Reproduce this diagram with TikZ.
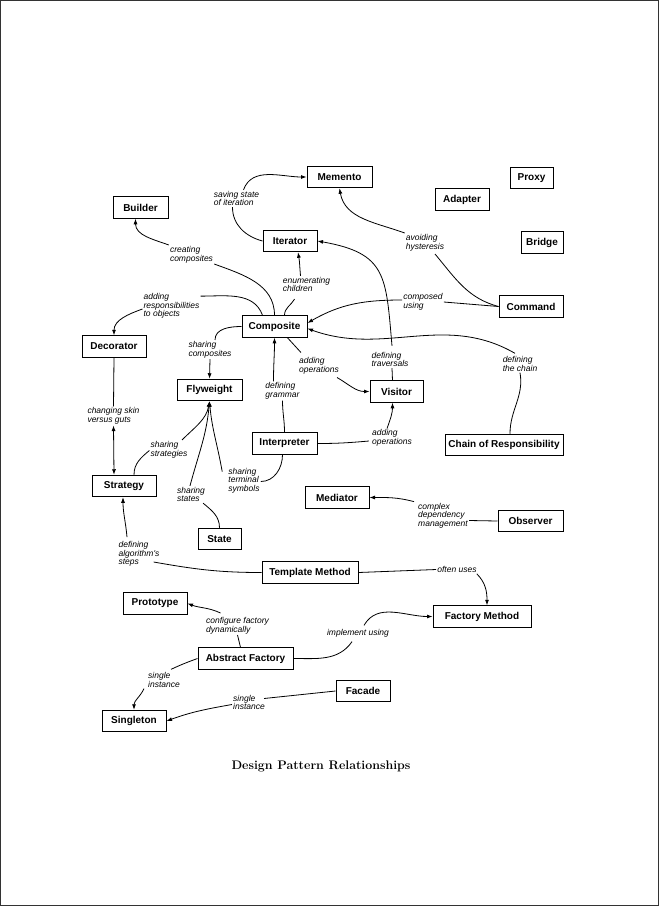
\documentclass[tikz,border=0pt]{standalone}
\usepackage{fontspec}
\newfontfamily\helv{Liberation Sans}
\usetikzlibrary{arrows.meta}
\usetikzlibrary{positioning}

\begin{document}
\begin{tikzpicture}[x=1pt,y=-1pt,
  pbox/.style={draw,line width=1pt,minimum height=21.5pt,inner sep=0pt,font=\helv\bfseries\fontsize{10}{12}\selectfont},
  rel/.style={font=\helv\itshape\fontsize{8.5}{8.7}\selectfont,align=left,inner sep=1pt},
  link/.style={line width=0.8pt,-{Latex[length=5.5pt,width=4pt]}},
  both/.style={line width=0.8pt,{Latex[length=5.5pt,width=4pt]}-{Latex[length=5.5pt,width=4pt]}}]
\useasboundingbox (0,0) rectangle (659,906);
\draw[line width=1.3pt,black!80] (0.65,0.65) rectangle (658.35,905.35);

% patterns
\node[pbox,minimum width=65pt] (mem) at (339.5,177) {Memento};
\node[pbox,minimum width=55pt] (build) at (140.5,207.5) {Builder};
\node[pbox,minimum width=54pt] (iter) at (290,241) {Iterator};
\node[pbox,minimum width=65pt] (comp) at (274.5,326.5) {Composite};
\node[pbox,minimum width=64pt] (dec) at (114,346.5) {Decorator};
\node[pbox,minimum width=65pt] (fly) at (209.5,390) {Flyweight};
\node[pbox,minimum width=65pt] (interp) at (284.5,443.5) {Interpreter};
\node[pbox,minimum width=43pt] (proxy) at (531.5,178) {Proxy};
\node[pbox,minimum width=54pt] (adapt) at (462,199.5) {Adapter};
\node[pbox,minimum width=42pt] (bridge) at (542,242.5) {Bridge};
\node[pbox,minimum width=64pt] (cmd) at (531,306.5) {Command};
\node[pbox,minimum width=53pt] (vis) at (396.5,391.5) {Visitor};
\node[pbox,minimum width=118pt] (chain) at (504,445) {Chain of Responsibility};
\node[pbox,minimum width=64pt] (strat) at (124,486) {Strategy};
\node[pbox,minimum width=43pt] (state) at (219.5,539) {State};
\node[pbox,minimum width=64pt] (med) at (337,497.5) {Mediator};
\node[pbox,minimum width=65pt] (obs) at (530.5,521) {Observer};
\node[pbox,minimum width=96pt] (tmpl) at (310,572.5) {Template Method};
\node[pbox,minimum width=98pt] (fact) at (482,616.5) {Factory Method};
\node[pbox,minimum width=64pt] (proto) at (155,603.5) {Prototype};
\node[pbox,minimum width=95pt] (abs) at (245.5,658.5) {Abstract Factory};
\node[pbox,minimum width=54pt] (facade) at (363,691) {Facade};
\node[pbox,minimum width=64pt] (single) at (134,721) {Singleton};

% relation labels
\node[rel] (lsave) at (236.5,198.5) {saving state\\of iteration};
\node[rel] (lcreate) at (191.5,254.5) {creating\\composites};
\node[rel] (lenum) at (306.5,284.5) {enumerating\\children};
\node[rel] (lresp) at (171.5,306) {adding\\responsibilities\\to objects};
\node[rel] (lsharec) at (210,349.5) {sharing\\composites};
\node[rel] (ldefg) at (282.5,391) {defining\\grammar};
\node[rel] (laddop) at (319,366) {adding\\operations};
\node[rel] (lcomp) at (423,302) {composed\\using};
\node[rel] (lchain) at (520,364) {defining\\the chain};
\node[rel] (ltrav) at (390,359.5) {defining\\traversals};
\node[rel] (lavoid) at (425,242.5) {avoiding\\hysteresis};
\node[rel] (laddopb) at (392,438) {adding\\operations};
\node[rel] (lskin) at (113.5,416) {changing skin\\versus guts};
\node[rel] (lsstrat) at (169,449.5) {sharing\\strategies};
\node[rel] (lsstate) at (191,494.5) {sharing\\states};
\node[rel] (lsterm) at (244,480.5) {sharing\\terminal\\symbols};
\node[rel] (lalgo) at (139,554) {defining\\algorithm's\\steps};
\node[rel] (lcdm) at (443,515.5) {complex\\dependency\\management};
\node[rel] (loften) at (457,569.5) {often uses};
\node[rel] (lconf) at (237.5,625.5) {configure factory\\dynamically};
\node[rel] (limpl) at (358,633.5) {implement using};
\node[rel] (lsi1) at (164,680) {single\\instance};
\node[rel] (lsi2) at (249,702.5) {single\\instance};

% relations
\draw[link] (iter.west) to[out=165,in=-90] ([xshift=-4pt]lsave.south) ([xshift=7pt]lsave.north) to[out=70,in=180] (mem.west);
\draw[link] (comp.north) to[out=90,in=-20] (lcreate.south east) (lcreate.north west) to[out=160,in=-90] ([xshift=-5pt]build.south);
\draw[link] ([xshift=10pt]comp.north) to[out=90,in=-120] ([xshift=-12pt,yshift=-6pt]lenum.south) ([xshift=-6pt]lenum.north) to[out=95,in=-80] ([xshift=8pt]iter.south);
\draw[link] ([xshift=-12pt]comp.north) to[out=110,in=0] ([yshift=-4pt]lresp.north east) ([yshift=-3pt]lresp.west) to[out=200,in=90] (dec.north);
\draw[link] (comp.west) to[out=180,in=90] ([xshift=5pt]lsharec.north) (lsharec.south) -- (fly.north);
\draw[link] (interp.north) to[out=90,in=-90] (ldefg.south) ([xshift=-9pt]ldefg.north) to[out=90,in=-90] (comp.south);
\draw[link] ([xshift=-20pt]comp.south east) -- ([xshift=3pt,yshift=4pt]laddop.north west) ([xshift=-3pt,yshift=-2pt]laddop.south east) to[out=-30,in=180] (vis.west);
\draw[link] (cmd.west) -- (lcomp.east) ([yshift=2pt]lcomp.west) to[out=180,in=30] ([yshift=3.5pt]comp.east);
\draw[link] ([xshift=6pt]chain.north) to[out=90,in=-80] (lchain.south) ([xshift=-5pt,yshift=2pt]lchain.north) to[out=150,in=-20] ([yshift=-2pt]comp.east);
\draw[link] ([xshift=-4pt]vis.north) -- ([xshift=2pt]ltrav.south) ([xshift=2pt,yshift=5pt]ltrav.north) to[out=95,in=-10,looseness=1.4] (iter.east);
\draw[link] (cmd.west) to[out=165,in=-50] ([xshift=10pt,yshift=-2pt]lavoid.south) (lavoid.north west) to[out=160,in=-80] (mem.south);
\draw[link] (interp.east) to[out=0,in=185] ([xshift=-2pt,yshift=-3pt]laddopb.west) ([xshift=-5pt]laddopb.north) to[out=70,in=-90] ([xshift=-4pt]vis.south);
\draw[both] (dec.south) -- (lskin.north) (lskin.south) -- (dec.south |- strat.north);
\draw[link] ([xshift=10pt]strat.north) to[out=90,in=220] ([yshift=-1pt]lsstrat.west) ([xshift=13pt]lsstrat.north) to[out=45,in=-100] (fly.south);
\draw[link] (state.north) to[out=90,in=-40] ([xshift=-3pt]lsstate.south east) ([xshift=-1pt]lsstate.north) to[out=75,in=-95] (fly.south);
\draw[link] ([xshift=-2pt]interp.south) to[out=-90,in=0] ([yshift=-1pt]lsterm.east) ([xshift=-5pt,yshift=-5pt]lsterm.north west) to[out=100,in=-85] (fly.south);
\draw[link] (tmpl.west) to[out=180,in=-10] ([xshift=-7pt,yshift=-8pt]lalgo.east) ([xshift=-12pt,yshift=3pt]lalgo.north) to[out=95,in=-90] ([xshift=-1pt]strat.south);
\draw[link] (obs.west) -- ([yshift=-5pt]lcdm.east) ([xshift=-3pt]lcdm.north west) to[out=165,in=0] (med.east);
\draw[link] (tmpl.east) -- (loften.west) ([xshift=-1pt]loften.south east) to[out=-45,in=90] ([xshift=5pt]fact.north);
\draw[link] ([xshift=-5pt]abs.north) -- (lconf.south) ([xshift=-17pt,yshift=3pt]lconf.north) to[out=155,in=-20] (proto.east);
\draw[link] (abs.east) to[out=0,in=-125] ([xshift=-6pt,yshift=-3pt]limpl.south) ([xshift=6pt,yshift=3pt]limpl.north) to[out=60,in=180] (fact.west);
\draw[link] (abs.west) to[out=200,in=25] ([xshift=-10pt,yshift=2pt]lsi1.north east) ([xshift=-3pt]lsi1.south west) to[out=-115,in=90] (single.north);
\draw[link] (facade.west) -- ([xshift=-2pt,yshift=4pt]lsi2.east) ([yshift=-2pt]lsi2.west) to[out=190,in=20] (single.east);

\node[font=\bfseries\fontsize{12.4}{14}\selectfont,anchor=base] (title) at (321,769.5) {Design Pattern Relationships};
\end{tikzpicture}
\end{document}
